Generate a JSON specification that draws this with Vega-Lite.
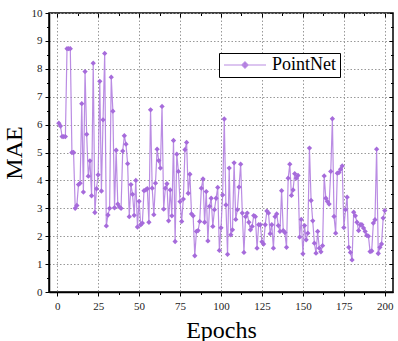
{
  "$schema": "https://vega.github.io/schema/vega-lite/v6.json",
  "width": 344,
  "height": 279,
  "autosize": {"type": "none"},
  "padding": {"left": 49, "top": 13, "right": 5, "bottom": 49},
  "background": "white",
  "config": {
    "font": "Liberation Serif",
    "view": {"stroke": "black", "strokeWidth": 1.5},
    "axis": {
      "labelFont": "Liberation Serif",
      "labelFontSize": 11,
      "labelColor": "#222222",
      "domainColor": "black",
      "domainWidth": 1.5,
      "tickColor": "black",
      "tickWidth": 1,
      "gridColor": "#999999",
      "gridDash": [1.5, 2],
      "gridWidth": 1,
      "titleFont": "Liberation Serif",
      "titleFontWeight": "normal",
      "titleFontSize": 24,
      "titleColor": "black"
    }
  },
  "data": {
    "values": [
      {"epoch": 1, "mae": 6.05, "model": "PointNet"},
      {"epoch": 2, "mae": 5.95, "model": "PointNet"},
      {"epoch": 3, "mae": 5.57, "model": "PointNet"},
      {"epoch": 4, "mae": 5.57, "model": "PointNet"},
      {"epoch": 5, "mae": 5.57, "model": "PointNet"},
      {"epoch": 6, "mae": 8.72, "model": "PointNet"},
      {"epoch": 7, "mae": 8.72, "model": "PointNet"},
      {"epoch": 8, "mae": 8.72, "model": "PointNet"},
      {"epoch": 9, "mae": 5.0, "model": "PointNet"},
      {"epoch": 10, "mae": 5.0, "model": "PointNet"},
      {"epoch": 11, "mae": 3.0, "model": "PointNet"},
      {"epoch": 12, "mae": 3.1, "model": "PointNet"},
      {"epoch": 13, "mae": 3.85, "model": "PointNet"},
      {"epoch": 14, "mae": 3.9, "model": "PointNet"},
      {"epoch": 15, "mae": 6.75, "model": "PointNet"},
      {"epoch": 16, "mae": 3.58, "model": "PointNet"},
      {"epoch": 17, "mae": 7.9, "model": "PointNet"},
      {"epoch": 18, "mae": 5.65, "model": "PointNet"},
      {"epoch": 19, "mae": 4.15, "model": "PointNet"},
      {"epoch": 20, "mae": 4.7, "model": "PointNet"},
      {"epoch": 21, "mae": 3.45, "model": "PointNet"},
      {"epoch": 22, "mae": 8.2, "model": "PointNet"},
      {"epoch": 23, "mae": 2.85, "model": "PointNet"},
      {"epoch": 24, "mae": 3.7, "model": "PointNet"},
      {"epoch": 25, "mae": 4.2, "model": "PointNet"},
      {"epoch": 26, "mae": 7.55, "model": "PointNet"},
      {"epoch": 27, "mae": 3.62, "model": "PointNet"},
      {"epoch": 28, "mae": 6.17, "model": "PointNet"},
      {"epoch": 29, "mae": 8.55, "model": "PointNet"},
      {"epoch": 30, "mae": 2.37, "model": "PointNet"},
      {"epoch": 31, "mae": 2.76, "model": "PointNet"},
      {"epoch": 32, "mae": 3.0, "model": "PointNet"},
      {"epoch": 33, "mae": 7.7, "model": "PointNet"},
      {"epoch": 34, "mae": 6.48, "model": "PointNet"},
      {"epoch": 35, "mae": 3.02, "model": "PointNet"},
      {"epoch": 36, "mae": 5.08, "model": "PointNet"},
      {"epoch": 37, "mae": 3.15, "model": "PointNet"},
      {"epoch": 38, "mae": 3.05, "model": "PointNet"},
      {"epoch": 39, "mae": 3.0, "model": "PointNet"},
      {"epoch": 40, "mae": 5.05, "model": "PointNet"},
      {"epoch": 41, "mae": 5.6, "model": "PointNet"},
      {"epoch": 42, "mae": 5.3, "model": "PointNet"},
      {"epoch": 43, "mae": 4.6, "model": "PointNet"},
      {"epoch": 44, "mae": 2.7, "model": "PointNet"},
      {"epoch": 45, "mae": 3.85, "model": "PointNet"},
      {"epoch": 46, "mae": 3.5, "model": "PointNet"},
      {"epoch": 47, "mae": 2.75, "model": "PointNet"},
      {"epoch": 48, "mae": 4.0, "model": "PointNet"},
      {"epoch": 49, "mae": 2.33, "model": "PointNet"},
      {"epoch": 50, "mae": 3.25, "model": "PointNet"},
      {"epoch": 51, "mae": 2.41, "model": "PointNet"},
      {"epoch": 52, "mae": 2.47, "model": "PointNet"},
      {"epoch": 53, "mae": 3.63, "model": "PointNet"},
      {"epoch": 54, "mae": 3.66, "model": "PointNet"},
      {"epoch": 55, "mae": 3.7, "model": "PointNet"},
      {"epoch": 56, "mae": 2.5, "model": "PointNet"},
      {"epoch": 57, "mae": 6.53, "model": "PointNet"},
      {"epoch": 58, "mae": 3.72, "model": "PointNet"},
      {"epoch": 59, "mae": 2.77, "model": "PointNet"},
      {"epoch": 60, "mae": 3.9, "model": "PointNet"},
      {"epoch": 61, "mae": 5.12, "model": "PointNet"},
      {"epoch": 62, "mae": 4.71, "model": "PointNet"},
      {"epoch": 63, "mae": 4.44, "model": "PointNet"},
      {"epoch": 64, "mae": 6.65, "model": "PointNet"},
      {"epoch": 65, "mae": 2.97, "model": "PointNet"},
      {"epoch": 66, "mae": 3.72, "model": "PointNet"},
      {"epoch": 67, "mae": 3.88, "model": "PointNet"},
      {"epoch": 68, "mae": 2.55, "model": "PointNet"},
      {"epoch": 69, "mae": 3.66, "model": "PointNet"},
      {"epoch": 70, "mae": 2.73, "model": "PointNet"},
      {"epoch": 71, "mae": 5.43, "model": "PointNet"},
      {"epoch": 72, "mae": 1.81, "model": "PointNet"},
      {"epoch": 73, "mae": 4.94, "model": "PointNet"},
      {"epoch": 74, "mae": 4.32, "model": "PointNet"},
      {"epoch": 75, "mae": 3.24, "model": "PointNet"},
      {"epoch": 76, "mae": 2.53, "model": "PointNet"},
      {"epoch": 77, "mae": 3.33, "model": "PointNet"},
      {"epoch": 78, "mae": 5.1, "model": "PointNet"},
      {"epoch": 79, "mae": 5.36, "model": "PointNet"},
      {"epoch": 80, "mae": 3.54, "model": "PointNet"},
      {"epoch": 81, "mae": 4.22, "model": "PointNet"},
      {"epoch": 82, "mae": 2.8, "model": "PointNet"},
      {"epoch": 83, "mae": 2.73, "model": "PointNet"},
      {"epoch": 84, "mae": 1.3, "model": "PointNet"},
      {"epoch": 85, "mae": 2.17, "model": "PointNet"},
      {"epoch": 86, "mae": 2.2, "model": "PointNet"},
      {"epoch": 87, "mae": 2.53, "model": "PointNet"},
      {"epoch": 88, "mae": 3.72, "model": "PointNet"},
      {"epoch": 89, "mae": 4.05, "model": "PointNet"},
      {"epoch": 90, "mae": 2.5, "model": "PointNet"},
      {"epoch": 91, "mae": 3.6, "model": "PointNet"},
      {"epoch": 92, "mae": 1.83, "model": "PointNet"},
      {"epoch": 93, "mae": 3.07, "model": "PointNet"},
      {"epoch": 94, "mae": 3.36, "model": "PointNet"},
      {"epoch": 95, "mae": 2.35, "model": "PointNet"},
      {"epoch": 96, "mae": 2.95, "model": "PointNet"},
      {"epoch": 97, "mae": 3.36, "model": "PointNet"},
      {"epoch": 98, "mae": 3.75, "model": "PointNet"},
      {"epoch": 99, "mae": 1.49, "model": "PointNet"},
      {"epoch": 100, "mae": 2.3, "model": "PointNet"},
      {"epoch": 101, "mae": 3.48, "model": "PointNet"},
      {"epoch": 102, "mae": 6.2, "model": "PointNet"},
      {"epoch": 103, "mae": 3.12, "model": "PointNet"},
      {"epoch": 104, "mae": 1.35, "model": "PointNet"},
      {"epoch": 105, "mae": 4.44, "model": "PointNet"},
      {"epoch": 106, "mae": 2.05, "model": "PointNet"},
      {"epoch": 107, "mae": 2.23, "model": "PointNet"},
      {"epoch": 108, "mae": 4.63, "model": "PointNet"},
      {"epoch": 109, "mae": 2.6, "model": "PointNet"},
      {"epoch": 110, "mae": 2.95, "model": "PointNet"},
      {"epoch": 111, "mae": 3.76, "model": "PointNet"},
      {"epoch": 112, "mae": 4.58, "model": "PointNet"},
      {"epoch": 113, "mae": 2.83, "model": "PointNet"},
      {"epoch": 114, "mae": 1.42, "model": "PointNet"},
      {"epoch": 115, "mae": 2.7, "model": "PointNet"},
      {"epoch": 116, "mae": 2.83, "model": "PointNet"},
      {"epoch": 117, "mae": 2.5, "model": "PointNet"},
      {"epoch": 118, "mae": 2.23, "model": "PointNet"},
      {"epoch": 119, "mae": 2.35, "model": "PointNet"},
      {"epoch": 120, "mae": 2.74, "model": "PointNet"},
      {"epoch": 121, "mae": 2.7, "model": "PointNet"},
      {"epoch": 122, "mae": 1.57, "model": "PointNet"},
      {"epoch": 123, "mae": 2.41, "model": "PointNet"},
      {"epoch": 124, "mae": 2.41, "model": "PointNet"},
      {"epoch": 125, "mae": 1.8, "model": "PointNet"},
      {"epoch": 126, "mae": 1.72, "model": "PointNet"},
      {"epoch": 127, "mae": 2.41, "model": "PointNet"},
      {"epoch": 128, "mae": 2.9, "model": "PointNet"},
      {"epoch": 129, "mae": 2.83, "model": "PointNet"},
      {"epoch": 130, "mae": 2.09, "model": "PointNet"},
      {"epoch": 131, "mae": 2.41, "model": "PointNet"},
      {"epoch": 132, "mae": 1.57, "model": "PointNet"},
      {"epoch": 133, "mae": 2.7, "model": "PointNet"},
      {"epoch": 134, "mae": 2.8, "model": "PointNet"},
      {"epoch": 135, "mae": 2.38, "model": "PointNet"},
      {"epoch": 136, "mae": 2.17, "model": "PointNet"},
      {"epoch": 137, "mae": 3.63, "model": "PointNet"},
      {"epoch": 138, "mae": 2.2, "model": "PointNet"},
      {"epoch": 139, "mae": 2.13, "model": "PointNet"},
      {"epoch": 140, "mae": 1.6, "model": "PointNet"},
      {"epoch": 141, "mae": 4.08, "model": "PointNet"},
      {"epoch": 142, "mae": 4.58, "model": "PointNet"},
      {"epoch": 143, "mae": 3.46, "model": "PointNet"},
      {"epoch": 144, "mae": 3.66, "model": "PointNet"},
      {"epoch": 145, "mae": 4.24, "model": "PointNet"},
      {"epoch": 146, "mae": 4.08, "model": "PointNet"},
      {"epoch": 147, "mae": 4.18, "model": "PointNet"},
      {"epoch": 148, "mae": 1.97, "model": "PointNet"},
      {"epoch": 149, "mae": 2.6, "model": "PointNet"},
      {"epoch": 150, "mae": 1.37, "model": "PointNet"},
      {"epoch": 151, "mae": 2.38, "model": "PointNet"},
      {"epoch": 152, "mae": 1.87, "model": "PointNet"},
      {"epoch": 153, "mae": 2.11, "model": "PointNet"},
      {"epoch": 154, "mae": 5.16, "model": "PointNet"},
      {"epoch": 155, "mae": 3.28, "model": "PointNet"},
      {"epoch": 156, "mae": 2.55, "model": "PointNet"},
      {"epoch": 157, "mae": 1.75, "model": "PointNet"},
      {"epoch": 158, "mae": 1.39, "model": "PointNet"},
      {"epoch": 159, "mae": 2.17, "model": "PointNet"},
      {"epoch": 160, "mae": 1.57, "model": "PointNet"},
      {"epoch": 161, "mae": 1.44, "model": "PointNet"},
      {"epoch": 162, "mae": 1.66, "model": "PointNet"},
      {"epoch": 163, "mae": 4.16, "model": "PointNet"},
      {"epoch": 164, "mae": 3.36, "model": "PointNet"},
      {"epoch": 165, "mae": 3.24, "model": "PointNet"},
      {"epoch": 166, "mae": 3.15, "model": "PointNet"},
      {"epoch": 167, "mae": 4.32, "model": "PointNet"},
      {"epoch": 168, "mae": 6.21, "model": "PointNet"},
      {"epoch": 169, "mae": 2.71, "model": "PointNet"},
      {"epoch": 170, "mae": 2.11, "model": "PointNet"},
      {"epoch": 171, "mae": 4.26, "model": "PointNet"},
      {"epoch": 172, "mae": 4.28, "model": "PointNet"},
      {"epoch": 173, "mae": 4.4, "model": "PointNet"},
      {"epoch": 174, "mae": 4.52, "model": "PointNet"},
      {"epoch": 175, "mae": 2.31, "model": "PointNet"},
      {"epoch": 176, "mae": 2.95, "model": "PointNet"},
      {"epoch": 177, "mae": 3.4, "model": "PointNet"},
      {"epoch": 178, "mae": 1.6, "model": "PointNet"},
      {"epoch": 179, "mae": 1.42, "model": "PointNet"},
      {"epoch": 180, "mae": 1.15, "model": "PointNet"},
      {"epoch": 181, "mae": 2.86, "model": "PointNet"},
      {"epoch": 182, "mae": 2.73, "model": "PointNet"},
      {"epoch": 183, "mae": 2.5, "model": "PointNet"},
      {"epoch": 184, "mae": 2.2, "model": "PointNet"},
      {"epoch": 185, "mae": 2.41, "model": "PointNet"},
      {"epoch": 186, "mae": 2.41, "model": "PointNet"},
      {"epoch": 187, "mae": 2.29, "model": "PointNet"},
      {"epoch": 188, "mae": 2.17, "model": "PointNet"},
      {"epoch": 189, "mae": 2.03, "model": "PointNet"},
      {"epoch": 190, "mae": 2.0, "model": "PointNet"},
      {"epoch": 191, "mae": 1.45, "model": "PointNet"},
      {"epoch": 192, "mae": 1.47, "model": "PointNet"},
      {"epoch": 193, "mae": 2.47, "model": "PointNet"},
      {"epoch": 194, "mae": 2.59, "model": "PointNet"},
      {"epoch": 195, "mae": 5.12, "model": "PointNet"},
      {"epoch": 196, "mae": 1.38, "model": "PointNet"},
      {"epoch": 197, "mae": 1.6, "model": "PointNet"},
      {"epoch": 198, "mae": 1.72, "model": "PointNet"},
      {"epoch": 199, "mae": 2.65, "model": "PointNet"},
      {"epoch": 200, "mae": 2.92, "model": "PointNet"}
    ]
  },
  "layer": [
    {
      "mark": {"type": "line", "strokeWidth": 1.2, "opacity": 0.9},
      "encoding": {
        "x": {
          "field": "epoch", "type": "quantitative",
          "scale": {"domain": [-5, 205], "nice": false, "zero": false},
          "axis": {"orient": "bottom", "values": [0, 25, 50, 75, 100, 125, 150, 175, 200], "tickSize": 4, "labelPadding": 4, "grid": true, "title": "Epochs", "titlePadding": 7}
        },
        "y": {
          "field": "mae", "type": "quantitative",
          "scale": {"domain": [0, 10], "nice": false},
          "axis": {"orient": "left", "values": [0, 1, 2, 3, 4, 5, 6, 7, 8, 9, 10], "tickSize": 4, "labelPadding": 3, "grid": true, "title": "MAE", "titlePadding": 5}
        },
        "color": {
          "field": "model", "type": "nominal",
          "scale": {"range": ["#b380e0"]},
          "legend": {
            "title": null,
            "orient": "none",
            "legendX": 170,
            "legendY": 40,
            "padding": 3,
            "strokeColor": "black",
            "fillColor": "white",
            "cornerRadius": 0,
            "labelFont": "Liberation Serif",
            "labelFontSize": 18,
            "labelColor": "black",
            "labelOffset": 32,
            "symbolType": "M-1,0L5,0M2,-0.45L2.45,0L2,0.45L1.55,0Z",
            "symbolSize": 196,
            "symbolStrokeWidth": 1.2,
            "symbolStrokeColor": "#a66bdb",
            "symbolFillColor": "#a66bdb",
            "encode": {"legend": {"update": {"strokeWidth": {"value": 1.5}}}}
          }
        }
      }
    },
    {
      "mark": {"type": "point", "shape": "diamond", "filled": true, "size": 28, "color": "#a66bdb", "opacity": 1},
      "encoding": {
        "x": {
          "field": "epoch", "type": "quantitative",
          "axis": {"orient": "bottom", "values": [-12.5, 12.5, 37.5, 62.5, 87.5, 112.5, 137.5, 162.5, 187.5], "tickSize": 2.5, "labels": false, "grid": false, "domain": false, "title": null}
        },
        "y": {
          "field": "mae", "type": "quantitative",
          "axis": {"orient": "left", "values": [0.5, 1.5, 2.5, 3.5, 4.5, 5.5, 6.5, 7.5, 8.5, 9.5], "tickSize": 2.5, "labels": false, "grid": false, "domain": false, "title": null}
        }
      }
    },
    {
      "mark": {"type": "point", "opacity": 0},
      "encoding": {
        "x": {
          "field": "epoch", "type": "quantitative",
          "axis": {"orient": "top", "values": [0, 25, 50, 75, 100, 125, 150, 175, 200], "tickSize": -4, "labels": false, "grid": false, "domain": false, "title": null}
        },
        "y": {
          "field": "mae", "type": "quantitative",
          "axis": {"orient": "right", "values": [0, 1, 2, 3, 4, 5, 6, 7, 8, 9, 10], "tickSize": -4, "labels": false, "grid": false, "domain": false, "title": null}
        }
      }
    },
    {
      "mark": {"type": "point", "opacity": 0},
      "encoding": {
        "x": {
          "field": "epoch", "type": "quantitative",
          "axis": {"orient": "top", "values": [12.5, 37.5, 62.5, 87.5, 112.5, 137.5, 162.5, 187.5], "tickSize": -2.5, "labels": false, "grid": false, "domain": false, "title": null}
        },
        "y": {
          "field": "mae", "type": "quantitative",
          "axis": {"orient": "right", "values": [0.5, 1.5, 2.5, 3.5, 4.5, 5.5, 6.5, 7.5, 8.5, 9.5], "tickSize": -2.5, "labels": false, "grid": false, "domain": false, "title": null}
        }
      }
    }
  ],
  "resolve": {"axis": {"x": "independent", "y": "independent"}}
}
